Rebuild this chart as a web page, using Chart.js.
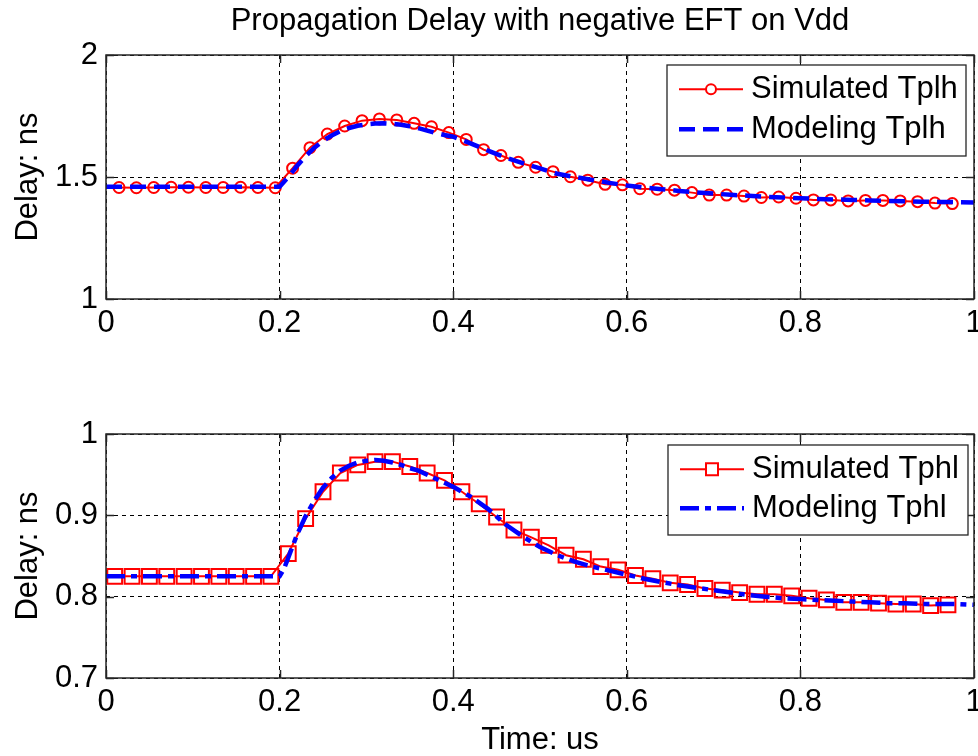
<!DOCTYPE html>
<html>
<head>
<meta charset="utf-8">
<title>Propagation Delay with negative EFT on Vdd</title>
<script src="https://cdn.jsdelivr.net/npm/chart.js@4.4.0/dist/chart.umd.min.js"></script>
<style>
  html, body { margin: 0; padding: 0; background: #fff; }
  #wrap { position: relative; width: 978px; height: 756px; overflow: hidden; }
  canvas { position: absolute; left: 0; }
  #tplhChart { top: 0; }
  #tphlChart { top: 378px; }
</style>
</head>
<body>
<div id="wrap">
  <!-- canvases are a bit wider than the page so the last x label is cut at the edge like the original -->
  <canvas id="tplhChart" width="1000" height="340"></canvas>
  <canvas id="tphlChart" width="1000" height="378"></canvas>
</div>
<script>
// ---- data ----
const timeTicks = [0, 0.2, 0.4, 0.6, 0.8, 1];
const tplhTicks = [1, 1.5, 2];
const tphlTicks = [0.7, 0.8, 0.9, 1];

// upper plot: low-to-high delay
const simTplhTime = [0.015, 0.035, 0.055, 0.075, 0.095, 0.115, 0.135, 0.155, 0.175, 0.195,
  0.215, 0.235, 0.255, 0.275, 0.295, 0.315, 0.335, 0.355, 0.375, 0.395,
  0.415, 0.435, 0.455, 0.475, 0.495, 0.515, 0.535, 0.555, 0.575, 0.595,
  0.615, 0.635, 0.655, 0.675, 0.695, 0.715, 0.735, 0.755, 0.775, 0.795,
  0.815, 0.835, 0.855, 0.875, 0.895, 0.915, 0.935, 0.955, 0.975];
const simTplh = [1.457, 1.456, 1.457, 1.458, 1.458, 1.457, 1.457, 1.458, 1.457, 1.456,
  1.536, 1.620, 1.676, 1.709, 1.731, 1.738, 1.734, 1.720, 1.706, 1.682,
  1.654, 1.612, 1.588, 1.560, 1.540, 1.522, 1.501, 1.487, 1.470, 1.468,
  1.452, 1.450, 1.446, 1.436, 1.426, 1.426, 1.422, 1.416, 1.418, 1.413,
  1.406, 1.406, 1.402, 1.404, 1.404, 1.402, 1.399, 1.393, 1.391];
const modelTplhTime = [0, 0.05, 0.1, 0.15, 0.2, 0.21, 0.22, 0.23, 0.24, 0.25, 0.26, 0.27, 0.28, 0.29,
  0.3, 0.31, 0.32, 0.33, 0.34, 0.35, 0.36, 0.37, 0.38, 0.39, 0.4, 0.42, 0.44, 0.46, 0.48,
  0.5, 0.52, 0.54, 0.56, 0.58, 0.6, 0.62, 0.64, 0.66, 0.68, 0.7, 0.72, 0.74, 0.76, 0.78,
  0.8, 0.82, 0.84, 0.86, 0.88, 0.9, 0.92, 0.94, 0.96, 0.98, 1];
const modelTplh = [1.46, 1.46, 1.46, 1.46, 1.46, 1.50, 1.545, 1.585, 1.62, 1.648, 1.67, 1.688, 1.701, 1.71,
  1.716, 1.719, 1.72, 1.718, 1.714, 1.708, 1.70, 1.69, 1.68, 1.672, 1.665, 1.638, 1.608, 1.58, 1.557,
  1.535, 1.513, 1.50, 1.488, 1.476, 1.465, 1.457, 1.45, 1.443, 1.437, 1.432, 1.427, 1.423, 1.419, 1.416,
  1.413, 1.41, 1.408, 1.406, 1.404, 1.402, 1.401, 1.399, 1.398, 1.397, 1.396];

// lower plot: high-to-low delay
const simTphlTime = [0.01, 0.03, 0.05, 0.07, 0.09, 0.11, 0.13, 0.15, 0.17, 0.19,
  0.21, 0.23, 0.25, 0.27, 0.29, 0.31, 0.33, 0.35, 0.37, 0.39,
  0.41, 0.43, 0.45, 0.47, 0.49, 0.51, 0.53, 0.55, 0.57, 0.59,
  0.61, 0.63, 0.65, 0.67, 0.69, 0.71, 0.73, 0.75, 0.77, 0.79,
  0.81, 0.83, 0.85, 0.87, 0.89, 0.91, 0.93, 0.95, 0.97];
const simTphl = [0.825, 0.825, 0.825, 0.825, 0.825, 0.825, 0.825, 0.825, 0.825, 0.825,
  0.853, 0.896, 0.929, 0.952, 0.962, 0.966, 0.966, 0.960, 0.952, 0.943,
  0.929, 0.914, 0.898, 0.882, 0.873, 0.863, 0.851, 0.846, 0.837, 0.833,
  0.826, 0.822, 0.817, 0.815, 0.810, 0.808, 0.805, 0.803, 0.803, 0.801,
  0.798, 0.796, 0.793, 0.793, 0.792, 0.791, 0.791, 0.789, 0.790];
const modelTphlTime = [0, 0.05, 0.1, 0.15, 0.2, 0.205, 0.21, 0.22, 0.23, 0.24, 0.25, 0.26, 0.27, 0.28, 0.29,
  0.3, 0.31, 0.32, 0.33, 0.34, 0.35, 0.36, 0.37, 0.38, 0.39, 0.4, 0.42, 0.44, 0.46, 0.48,
  0.5, 0.52, 0.54, 0.56, 0.58, 0.6, 0.62, 0.64, 0.66, 0.68, 0.7, 0.72, 0.74, 0.76, 0.78,
  0.8, 0.82, 0.84, 0.86, 0.88, 0.9, 0.92, 0.94, 0.96, 0.98, 1];
const modelTphl = [0.825, 0.825, 0.825, 0.825, 0.825, 0.834, 0.848, 0.876, 0.899, 0.918, 0.934, 0.946, 0.955, 0.961, 0.965,
  0.967, 0.968, 0.967, 0.965, 0.962, 0.958, 0.955, 0.950, 0.945, 0.940, 0.935, 0.923, 0.908, 0.889, 0.874,
  0.861, 0.851, 0.843, 0.837, 0.832, 0.827, 0.822, 0.818, 0.814, 0.811, 0.808, 0.805, 0.802, 0.800, 0.798,
  0.797, 0.796, 0.795, 0.794, 0.793, 0.792, 0.792, 0.791, 0.791, 0.791, 0.790];

const FONT = "'Liberation Sans', Arial, Helvetica, sans-serif";
Chart.defaults.font.family = FONT;
Chart.defaults.color = "#000";

function toPoints(xs, ys) {
  return xs.map((x, i) => ({ x: x, y: ys[i] }));
}

// matlab style box, inward ticks and a boxed legend in the upper right
const matlabFrame = {
  id: "matlabFrame",
  afterDraw(chart, args, opts) {
    const { ctx, chartArea: a, scales } = chart;
    ctx.save();
    ctx.setLineDash([]);
    ctx.strokeStyle = "#262626";
    ctx.lineWidth = 1.5;

    ctx.beginPath();
    scales.x.ticks.forEach(t => {
      const px = Math.round(scales.x.getPixelForValue(t.value)) + 0.5;
      ctx.moveTo(px, a.bottom); ctx.lineTo(px, a.bottom - 8);
      ctx.moveTo(px, a.top); ctx.lineTo(px, a.top + 8);
    });
    scales.y.ticks.forEach(t => {
      const py = Math.round(scales.y.getPixelForValue(t.value)) + 0.5;
      ctx.moveTo(a.left, py); ctx.lineTo(a.left + 8, py);
      ctx.moveTo(a.right, py); ctx.lineTo(a.right - 8, py);
    });
    ctx.stroke();
    ctx.strokeRect(a.left, a.top, a.width, a.height);

    // legend
    const bw = opts.width, bh = opts.height;
    const bx = a.right - opts.right - bw;
    const by = a.top + opts.top;
    ctx.fillStyle = "#fff";
    ctx.fillRect(bx, by, bw, bh);
    ctx.lineWidth = 1.3;
    ctx.strokeStyle = "#262626";
    ctx.strokeRect(bx, by, bw, bh);

    ctx.font = "31px " + FONT;
    ctx.textBaseline = "middle";
    ctx.textAlign = "left";
    chart.data.datasets.forEach((ds, i) => {
      const y = by + opts.rowStart + i * opts.rowGap;
      const x1 = bx + 12, x2 = bx + 76;
      ctx.save();
      ctx.strokeStyle = ds.borderColor;
      ctx.lineWidth = ds.borderWidth;
      ctx.setLineDash(ds.borderDash || []);
      ctx.beginPath();
      ctx.moveTo(x1, y); ctx.lineTo(x2, y);
      ctx.stroke();
      ctx.setLineDash([]);
      if (ds.pointRadius > 0) {
        const xm = (x1 + x2) / 2;
        ctx.lineWidth = ds.pointBorderWidth;
        ctx.fillStyle = "#fff";
        ctx.beginPath();
        if (ds.pointStyle === "rect") {
          ctx.rect(xm - 6, y - 6, 12, 12);
        } else {
          ctx.arc(xm, y, 5, 0, Math.PI * 2);
        }
        ctx.fill();
        ctx.stroke();
      }
      ctx.restore();
      ctx.fillStyle = "#000";
      ctx.fillText(ds.label, bx + 84, y);
    });
    ctx.restore();
  }
};

function buildOptions(yMin, yMax, yTicks, cfg) {
  return {
    responsive: false,
    animation: false,
    devicePixelRatio: 1,
    // canvas is 1000 wide, plot box ends at x = 974
    layout: { padding: { left: 0, right: 26, top: cfg.padTop, bottom: 0 } },
    plugins: {
      legend: { display: false },
      tooltip: { enabled: false },
      title: cfg.title ? {
        display: true,
        text: cfg.title,
        fullSize: false,
        color: "#000",
        font: { size: 31, weight: "normal" },
        padding: { top: 2.7, bottom: 15.1 }
      } : { display: false },
      matlabFrame: cfg.legend
    },
    scales: {
      x: {
        type: "linear",
        min: 0,
        max: 1,
        afterBuildTicks: axis => { axis.ticks = timeTicks.map(v => ({ value: v })); },
        afterFit: axis => { axis.height = cfg.xHeight; },
        grid: { color: "#000", lineWidth: 1, drawTicks: false },
        border: { display: false, dash: [4, 4] },
        ticks: {
          padding: 6,
          autoSkip: false,
          maxRotation: 0,
          color: "#000",
          font: { size: 31 },
          callback: v => String(+v.toFixed(2))
        },
        title: cfg.xTitle ? {
          display: true,
          text: cfg.xTitle,
          color: "#000",
          font: { size: 31, lineHeight: 1 },
          padding: { top: 0, bottom: 0.5 }
        } : { display: false }
      },
      y: {
        type: "linear",
        min: yMin,
        max: yMax,
        afterBuildTicks: axis => { axis.ticks = yTicks.map(v => ({ value: v })); },
        afterFit: axis => { axis.width = 106; },
        grid: { color: "#000", lineWidth: 1, drawTicks: false },
        border: { display: false, dash: [4, 4] },
        ticks: {
          padding: 8,
          color: "#000",
          font: { size: 31 },
          callback: v => String(+v.toFixed(2))
        },
        title: {
          display: true,
          text: "Delay: ns",
          color: "#000",
          font: { size: 31, lineHeight: 1 },
          padding: { top: 12.5, bottom: 0 }
        }
      }
    }
  };
}

function drawTplh() {
  new Chart(document.getElementById("tplhChart"), {
    type: "line",
    data: {
      datasets: [{
        label: "Simulated Tplh",
        data: toPoints(simTplhTime, simTplh),
        borderColor: "#ff0000",
        borderWidth: 2,
        pointStyle: "circle",
        pointRadius: 5.5,
        pointBorderWidth: 2,
        pointBorderColor: "#ff0000",
        pointBackgroundColor: "rgba(0,0,0,0)",
        tension: 0,
        order: 1
      }, {
        label: "Modeling Tplh",
        data: toPoints(modelTplhTime, modelTplh),
        borderColor: "#0000ff",
        borderWidth: 4.5,
        borderDash: [16, 8],
        pointRadius: 0,
        tension: 0,
        order: 0
      }]
    },
    options: buildOptions(1, 2, tplhTicks, {
      title: "Propagation Delay with negative EFT on Vdd",
      padTop: 0,
      xHeight: 41,
      legend: { width: 299, height: 91, right: 8, top: 10, rowStart: 24.3, rowGap: 40 }
    }),
    plugins: [matlabFrame]
  });
}

function drawTphl() {
  new Chart(document.getElementById("tphlChart"), {
    type: "line",
    data: {
      datasets: [{
        label: "Simulated Tphl",
        data: toPoints(simTphlTime, simTphl),
        borderColor: "#ff0000",
        borderWidth: 2,
        pointStyle: "rect",
        pointRadius: 10.5,
        pointBorderWidth: 2,
        pointBorderColor: "#ff0000",
        pointBackgroundColor: "rgba(0,0,0,0)",
        tension: 0,
        order: 1
      }, {
        label: "Modeling Tphl",
        data: toPoints(modelTphlTime, modelTphl),
        borderColor: "#0000ff",
        borderWidth: 4.5,
        borderDash: [19, 6, 6, 6],
        pointRadius: 0,
        tension: 0,
        order: 0
      }]
    },
    options: buildOptions(0.7, 1, tphlTicks, {
      title: null,
      xTitle: "Time: us",
      padTop: 56,
      xHeight: 78,
      legend: { width: 300, height: 90, right: 6, top: 11, rowStart: 24.3, rowGap: 39 }
    }),
    plugins: [matlabFrame]
  });
}

drawTplh();
drawTphl();
</script>
</body>
</html>
